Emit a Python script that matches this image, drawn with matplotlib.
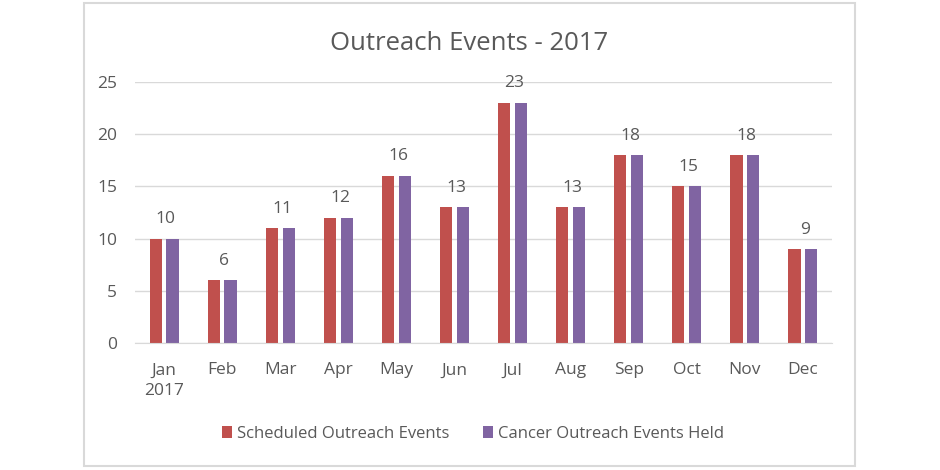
import matplotlib
matplotlib.use("Agg")
import matplotlib.pyplot as plt
import numpy as np
from matplotlib.patches import Rectangle

months = ["Jan\n2017", "Feb", "Mar", "Apr", "May", "Jun", "Jul", "Aug", "Sep", "Oct", "Nov", "Dec"]
scheduled = [10, 6, 11, 12, 16, 13, 23, 13, 18, 15, 18, 9]
held = [10, 6, 11, 12, 16, 13, 23, 13, 18, 15, 18, 9]
yticks = [0, 5, 10, 15, 20, 25]

plt.rcParams['font.family'] = ['Open Sans', 'DejaVu Sans']
TXT = '#595959'
RED = '#C0504D'
PUR = '#8064A2'

fig = plt.figure(figsize=(9.4, 4.7), dpi=100)
# chart border
fig.patches.append(Rectangle((84/940, 1-466/470), (855-84)/940, (466-3)/470,
                             transform=fig.transFigure, fill=False,
                             edgecolor='#D9D9D9', linewidth=1.5))

ax = fig.add_axes([135/940, 1-343/470, (832-135)/940, (343-82)/470])
x = np.arange(len(months))
w = 0.21
off = 0.145
ax.bar(x - off, scheduled, w, color=RED, label='Scheduled Outreach Events')
ax.bar(x + off, held, w, color=PUR, label='Cancer Outreach Events Held')
for xi, v in zip(x, held):
    ax.text(xi + 0.03, v + 1.1, str(v), ha='center', va='bottom', fontsize=12.5, color=TXT)

ax.set_xlim(-0.5, len(months) - 0.5)
ax.set_ylim(0, 25)
ax.set_yticks(yticks)
ax.set_xticks(x)
ax.set_xticklabels(months, linespacing=1.35)
ax.grid(axis='y', color='#D9D9D9', linewidth=1)
ax.set_axisbelow(True)
for s in ['top', 'right', 'left']:
    ax.spines[s].set_visible(False)
ax.spines['bottom'].set_color('#D9D9D9')
ax.tick_params(axis='both', length=0, labelsize=12.5, colors=TXT)
ax.tick_params(axis='y', pad=13)
ax.tick_params(axis='x', pad=14)

fig.text(469/940, 1-43/470, 'Outreach Events - 2017', ha='center', va='center',
         fontsize=18.5, color=TXT)

fig.legend(loc='center', bbox_to_anchor=(473/940, 1-434/470), ncol=2, frameon=False,
           fontsize=12, labelcolor=TXT, handlelength=0.6, handleheight=0.75,
           handletextpad=0.3, columnspacing=2.0)

fig.savefig('out.png', dpi=100, facecolor='white')
